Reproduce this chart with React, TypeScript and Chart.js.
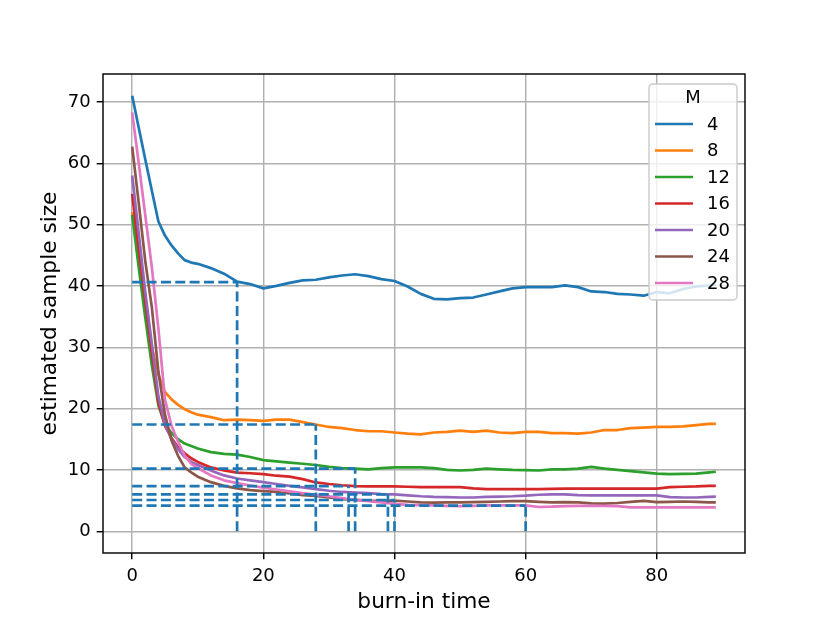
import { useEffect, useRef } from "react"
import { Chart, registerables } from "chart.js"

Chart.register(...registerables)

// burn-in times at which the curves were read
const burnIn = [
  0, 1, 2, 3, 4, 5, 6, 7, 8, 9, 10,
  12, 14, 16, 18, 20, 22, 24, 26, 28,
  30, 32, 34, 36, 38, 40, 42, 44, 46, 48,
  50, 52, 54, 56, 58, 60, 62, 64, 66, 68,
  70, 72, 74, 76, 78, 80, 82, 84, 86, 88, 89,
]

const mValues = [4, 8, 12, 16, 20, 24, 28]

const sizeM4 = [
  71.0, 65.8, 60.6, 55.5, 50.5, 48.2, 46.6, 45.3, 44.2, 43.8, 43.6,
  42.9, 42.0, 40.7, 40.3, 39.6, 40.0, 40.5, 40.9, 41.0,
  41.4, 41.7, 41.9, 41.6, 41.1, 40.8, 39.9, 38.7, 37.9, 37.8,
  38.0, 38.1, 38.6, 39.1, 39.6, 39.8, 39.8, 39.8, 40.1, 39.8,
  39.1, 39.0, 38.7, 38.6, 38.4, 39.0, 38.8, 39.5, 39.9, 40.1, 40.3,
]
const sizeM8 = [
  52.0, 44.5, 37.0, 30.0, 25.5, 22.7, 21.5, 20.6, 19.9, 19.4, 19.0,
  18.6, 18.1, 18.2, 18.1, 18.0, 18.2, 18.2, 17.8, 17.4,
  17.0, 16.8, 16.5, 16.3, 16.3, 16.1, 15.9, 15.8, 16.1, 16.2,
  16.4, 16.2, 16.4, 16.1, 16.0, 16.2, 16.2, 16.0, 16.0, 15.9,
  16.1, 16.5, 16.5, 16.8, 16.9, 17.0, 17.0, 17.1, 17.3, 17.5, 17.5,
]
const sizeM12 = [
  51.6, 43.0, 34.8, 27.0, 20.5, 17.4, 16.0, 15.0, 14.3, 13.9, 13.5,
  12.9, 12.6, 12.5, 12.1, 11.6, 11.4, 11.2, 11.0, 10.8,
  10.5, 10.3, 10.2, 10.1, 10.3, 10.4, 10.4, 10.4, 10.3, 10.0,
  9.9, 10.0, 10.2, 10.1, 10.0, 9.95, 9.9, 10.1, 10.1, 10.2,
  10.5, 10.2, 10.0, 9.8, 9.6, 9.4, 9.3, 9.35, 9.4, 9.6, 9.7,
]
const sizeM16 = [
  55.0, 46.0, 37.5, 29.0, 21.0, 17.2, 15.2, 13.7, 12.7, 11.9, 11.3,
  10.4, 9.9, 9.55, 9.45, 9.3, 9.05, 8.9, 8.5, 7.95,
  7.7, 7.5, 7.35, 7.3, 7.3, 7.3, 7.25, 7.2, 7.2, 7.2,
  7.2, 7.0, 6.85, 6.85, 6.85, 6.85, 6.85, 6.9, 6.95, 6.95,
  6.95, 6.95, 6.95, 6.95, 6.95, 6.95, 7.2, 7.25, 7.3, 7.4, 7.4,
]
const sizeM20 = [
  58.0, 48.5, 39.0, 30.5, 22.0, 17.5, 15.0, 13.4, 12.1, 11.3, 10.8,
  9.9, 9.1, 8.6, 8.3, 8.0, 7.7, 7.4, 7.15, 6.85,
  6.6, 6.4, 6.3, 6.2, 6.05, 6.0, 5.85, 5.7, 5.6, 5.55,
  5.5, 5.5, 5.6, 5.65, 5.7, 5.8, 5.95, 6.0, 6.0, 5.9,
  5.85, 5.85, 5.85, 5.85, 5.85, 5.85, 5.55, 5.5, 5.5, 5.6, 5.65,
]
const sizeM24 = [
  62.7, 53.5, 44.0, 36.5, 26.0, 19.0, 14.8, 12.3, 10.4, 9.6, 8.9,
  8.0, 7.4, 7.0, 6.7, 6.55, 6.4, 6.15, 5.9, 5.75,
  5.5, 5.25, 5.1, 5.0, 4.95, 5.0, 4.85, 4.7, 4.65, 4.7,
  4.7, 4.75, 4.8, 4.85, 4.9, 4.9, 4.8, 4.7, 4.75, 4.7,
  4.55, 4.5, 4.6, 4.8, 4.95, 4.75, 4.8, 4.85, 4.8, 4.7, 4.7,
]
const sizeM28 = [
  68.3, 60.0, 51.5, 43.0, 33.0, 21.5, 17.2, 14.6, 12.3, 11.0, 10.3,
  9.1, 8.3, 7.85, 7.45, 7.1, 6.8, 6.5, 6.2, 5.95,
  5.7, 5.4, 5.1, 4.9, 4.7, 4.45, 4.3, 4.25, 4.2, 4.15,
  4.1, 4.15, 4.2, 4.2, 4.2, 4.2, 3.95, 4.0, 4.1, 4.12,
  4.12, 4.12, 4.1, 3.9, 3.9, 3.9, 3.9, 3.9, 3.9, 3.9, 3.9,
]
const series = [sizeM4, sizeM8, sizeM12, sizeM16, sizeM20, sizeM24, sizeM28]

// chosen burn-in time and sample size for each M (dashed guides)
const refTime = [16, 28, 34, 33, 39, 40, 60]
const refSize = [40.6, 17.4, 10.2, 7.37, 6.02, 5.09, 4.18]

const xTicks = [0, 20, 40, 60, 80]
const yTicks = [0, 10, 20, 30, 40, 50, 60, 70]

const colors = ["#1f77b4", "#ff7f0e", "#2ca02c", "#d62728", "#9467bd", "#8c564b", "#e377c2"]

const PT = 130 / 72
const FONT = "DejaVu Sans"

const frameAndLegend = {
  id: "frameAndLegend",
  afterDatasetsDraw(chart: Chart) {
    const { ctx, chartArea: a } = chart
    ctx.save()
    ctx.strokeStyle = "#000"
    ctx.lineWidth = 0.8 * PT
    ctx.strokeRect(a.left, a.top, a.right - a.left, a.bottom - a.top)
    ctx.restore()
  },
  afterDraw(chart: Chart) {
    const { ctx, chartArea: a } = chart
    const w = 88
    const h = 216
    const left = a.right - 8 - w
    const top = a.top + 10
    ctx.save()
    ctx.beginPath()
    ctx.roundRect(left, top, w, h, 4)
    ctx.fillStyle = "rgba(255,255,255,0.8)"
    ctx.fill()
    ctx.strokeStyle = "rgba(204,204,204,0.8)"
    ctx.lineWidth = 1 * PT
    ctx.stroke()
    ctx.fillStyle = "#000"
    ctx.font = `18px "${FONT}"`
    ctx.textBaseline = "middle"
    ctx.textAlign = "center"
    ctx.fillText("M", left + w / 2, top + 14)
    ctx.textAlign = "left"
    mValues.forEach((m, i) => {
      const y = top + 40 + i * 26.5
      ctx.beginPath()
      ctx.moveTo(left + 6, y)
      ctx.lineTo(left + 44, y)
      ctx.strokeStyle = colors[i]
      ctx.lineWidth = 1.5 * PT
      ctx.stroke()
      ctx.fillText(String(m), left + 58, y + 1)
    })
    ctx.restore()
  },
}

export default function App() {
  const chartRef = useRef<HTMLCanvasElement>(null)
  const chartInstance = useRef<Chart | null>(null)

  useEffect(() => {
    if (!chartRef.current) return
    if (chartInstance.current) chartInstance.current.destroy()
    const ctx = chartRef.current.getContext("2d")
    if (!ctx) return

    Chart.defaults.font.family = FONT
    Chart.defaults.color = "#000"

    const curves = series.map((vals, i) => ({
      label: String(mValues[i]),
      data: vals.map((v, j) => ({ x: burnIn[j], y: v })),
      borderColor: colors[i],
      borderWidth: 1.5 * PT,
      pointRadius: 0,
      tension: 0,
      borderJoinStyle: "round" as const,
      order: series.length - i,
    }))

    const guides = refTime.flatMap((t, i) => [
      { x0: 0, y0: refSize[i], x1: t, y1: refSize[i] },
      { x0: t, y0: 0, x1: t, y1: refSize[i] },
    ]).map((s) => ({
      label: "",
      data: [{ x: s.x0, y: s.y0 }, { x: s.x1, y: s.y1 }],
      borderColor: "#1f77b4",
      borderWidth: 1.5 * PT,
      borderDash: [5.55 * PT, 2.4 * PT],
      borderCapStyle: "butt" as const,
      pointRadius: 0,
      order: 0,
    }))

    chartInstance.current = new Chart(ctx, {
      type: "line",
      data: { datasets: [...curves, ...guides] },
      options: {
        animation: false,
        responsive: false,
        devicePixelRatio: 1,
        layout: { padding: { left: 33, top: 74, right: 85, bottom: 8 } },
        plugins: { legend: { display: false }, tooltip: { enabled: false } },
        scales: {
          x: {
            type: "linear",
            min: -4.45,
            max: 93.45,
            afterBuildTicks: (s: any) => {
              s.ticks = xTicks.map((value) => ({ value }))
            },
            afterFit: (s: any) => {
              s.height = 62
            },
            ticks: { font: { size: 18 }, padding: 6, callback: (v: any) => String(v), maxRotation: 0 },
            grid: {
              color: "#b0b0b0",
              lineWidth: 0.8 * PT,
              tickColor: "#000",
              tickLength: 3.5 * PT,
              tickWidth: 0.8 * PT,
            },
            border: { display: false },
            title: { display: true, text: "burn-in time", font: { size: 21.7 }, padding: { top: 0, bottom: 0 } },
          },
          y: {
            type: "linear",
            min: -3.55,
            max: 74.55,
            afterBuildTicks: (s: any) => {
              s.ticks = yTicks.map((value) => ({ value }))
            },
            afterFit: (s: any) => {
              s.width = 70
            },
            ticks: { font: { size: 18 }, padding: 6, callback: (v: any) => String(v) },
            grid: {
              color: "#b0b0b0",
              lineWidth: 0.8 * PT,
              tickColor: "#000",
              tickLength: 3.5 * PT,
              tickWidth: 0.8 * PT,
            },
            border: { display: false },
            title: { display: true, text: "estimated sample size", font: { size: 21.7 }, padding: { top: 4, bottom: 0 } },
          },
        },
      },
      plugins: [frameAndLegend],
    })

    return () => {
      if (chartInstance.current) {
        chartInstance.current.destroy()
        chartInstance.current = null
      }
    }
  }, [])

  return (
    <div style={{ position: "absolute", left: 0, top: 0, width: 830, height: 623, background: "#fff" }}>
      <canvas ref={chartRef} width={830} height={623} style={{ display: "block" }}></canvas>
    </div>
  )
}
